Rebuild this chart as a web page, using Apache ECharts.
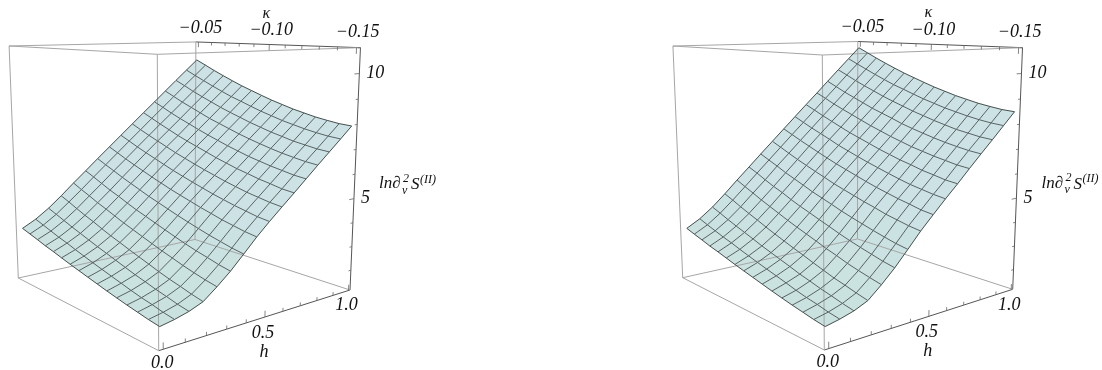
<!DOCTYPE html>
<html>
<head>
<meta charset="utf-8">
<title>surface</title>
<style>
  html, body { margin: 0; padding: 0; background: #fff; }
  #main { width: 1102px; height: 370px; }
</style>
<script src="https://cdn.jsdelivr.net/npm/echarts@6/dist/echarts.min.js"></script>
</head>
<body>
<div id="main"></div>
<script>
// mesh nodes
var hGrid = [0, 0.0667, 0.1333, 0.2, 0.2667, 0.3333, 0.4, 0.4667, 0.5333, 0.6, 0.6667, 0.7333, 0.8, 0.8667, 0.9333, 1];
var kappaGrid = [-0.15, -0.1433, -0.1367, -0.13, -0.1233, -0.1167, -0.11, -0.1033, -0.0967, -0.09, -0.0833, -0.0767, -0.07, -0.0633, -0.0567, -0.05];

// one row per kappaGrid value, one column per hGrid value
var zLeft = [
  [1.90, 2.00, 2.14, 2.35, 2.76, 3.21, 3.73, 4.26, 4.74, 5.20, 5.65, 6.11, 6.57, 7.02, 7.47, 7.93],
  [1.96, 2.07, 2.22, 2.45, 2.85, 3.30, 3.81, 4.33, 4.80, 5.26, 5.70, 6.16, 6.62, 7.06, 7.51, 7.96],
  [2.04, 2.17, 2.33, 2.57, 2.96, 3.42, 3.92, 4.43, 4.90, 5.35, 5.80, 6.25, 6.70, 7.14, 7.58, 8.03],
  [2.12, 2.25, 2.43, 2.68, 3.08, 3.53, 4.03, 4.53, 5.00, 5.44, 5.89, 6.34, 6.79, 7.22, 7.67, 8.11],
  [2.21, 2.35, 2.55, 2.81, 3.22, 3.66, 4.16, 4.66, 5.12, 5.56, 6.01, 6.45, 6.90, 7.34, 7.78, 8.22],
  [2.30, 2.46, 2.66, 2.95, 3.35, 3.80, 4.29, 4.78, 5.24, 5.68, 6.12, 6.56, 7.02, 7.45, 7.89, 8.33],
  [2.40, 2.57, 2.79, 3.09, 3.50, 3.95, 4.43, 4.92, 5.38, 5.82, 6.26, 6.70, 7.15, 7.59, 8.03, 8.47],
  [2.50, 2.68, 2.92, 3.23, 3.65, 4.10, 4.58, 5.06, 5.52, 5.96, 6.40, 6.84, 7.29, 7.73, 8.17, 8.61],
  [2.60, 2.79, 3.05, 3.38, 3.80, 4.25, 4.73, 5.20, 5.67, 6.11, 6.56, 7.00, 7.45, 7.89, 8.33, 8.77],
  [2.70, 2.91, 3.18, 3.52, 3.95, 4.40, 4.88, 5.36, 5.82, 6.27, 6.72, 7.16, 7.61, 8.05, 8.50, 8.94],
  [2.81, 3.03, 3.32, 3.68, 4.12, 4.57, 5.05, 5.52, 5.99, 6.43, 6.88, 7.33, 7.77, 8.22, 8.66, 9.11],
  [2.92, 3.16, 3.46, 3.85, 4.29, 4.75, 5.22, 5.69, 6.16, 6.61, 7.05, 7.51, 7.96, 8.41, 8.85, 9.30],
  [3.02, 3.27, 3.60, 4.00, 4.45, 4.91, 5.39, 5.86, 6.33, 6.79, 7.24, 7.69, 8.15, 8.60, 9.05, 9.50],
  [3.14, 3.40, 3.75, 4.17, 4.64, 5.10, 5.58, 6.04, 6.51, 6.97, 7.43, 7.88, 8.34, 8.80, 9.26, 9.71],
  [3.25, 3.53, 3.90, 4.35, 4.81, 5.29, 5.76, 6.23, 6.70, 7.16, 7.63, 8.09, 8.55, 9.02, 9.47, 9.93],
  [3.36, 3.66, 4.05, 4.51, 5.00, 5.47, 5.95, 6.42, 6.89, 7.36, 7.83, 8.29, 8.76, 9.23, 9.69, 10.15]
];
var zRight = [
  [1.88, 1.99, 2.14, 2.37, 2.82, 3.32, 3.89, 4.47, 4.99, 5.50, 5.99, 6.50, 7.00, 7.49, 7.99, 8.49],
  [1.94, 2.06, 2.23, 2.48, 2.92, 3.41, 3.97, 4.54, 5.05, 5.56, 6.04, 6.55, 7.05, 7.53, 8.03, 8.52],
  [2.02, 2.16, 2.34, 2.60, 3.03, 3.53, 4.08, 4.64, 5.16, 5.65, 6.14, 6.64, 7.13, 7.61, 8.10, 8.59],
  [2.10, 2.24, 2.44, 2.71, 3.15, 3.65, 4.20, 4.74, 5.26, 5.74, 6.23, 6.73, 7.22, 7.69, 8.19, 8.67],
  [2.19, 2.34, 2.56, 2.85, 3.30, 3.78, 4.33, 4.88, 5.38, 5.86, 6.36, 6.84, 7.33, 7.81, 8.30, 8.78],
  [2.28, 2.46, 2.67, 2.99, 3.43, 3.92, 4.46, 5.00, 5.50, 5.99, 6.47, 6.95, 7.45, 7.93, 8.41, 8.89],
  [2.38, 2.57, 2.81, 3.14, 3.59, 4.08, 4.60, 5.14, 5.64, 6.13, 6.61, 7.09, 7.58, 8.07, 8.55, 9.03],
  [2.48, 2.68, 2.94, 3.28, 3.74, 4.23, 4.76, 5.28, 5.79, 6.27, 6.75, 7.23, 7.72, 8.21, 8.69, 9.17],
  [2.58, 2.79, 3.07, 3.43, 3.89, 4.39, 4.91, 5.42, 5.94, 6.42, 6.91, 7.39, 7.89, 8.37, 8.85, 9.33],
  [2.68, 2.91, 3.20, 3.58, 4.05, 4.54, 5.06, 5.59, 6.09, 6.58, 7.07, 7.55, 8.05, 8.53, 9.02, 9.50],
  [2.79, 3.03, 3.35, 3.74, 4.22, 4.71, 5.24, 5.75, 6.26, 6.74, 7.23, 7.73, 8.21, 8.70, 9.18, 9.67],
  [2.90, 3.16, 3.49, 3.91, 4.39, 4.90, 5.41, 5.92, 6.43, 6.93, 7.41, 7.91, 8.40, 8.89, 9.37, 9.86],
  [3.00, 3.27, 3.63, 4.07, 4.56, 5.06, 5.58, 6.09, 6.61, 7.11, 7.60, 8.09, 8.59, 9.08, 9.57, 10.06],
  [3.12, 3.40, 3.78, 4.24, 4.75, 5.25, 5.78, 6.28, 6.79, 7.29, 7.79, 8.28, 8.78, 9.28, 9.78, 10.27],
  [3.23, 3.53, 3.94, 4.42, 4.93, 5.45, 5.96, 6.47, 6.98, 7.48, 7.99, 8.49, 8.99, 9.50, 9.99, 10.49],
  [3.35, 3.67, 4.09, 4.59, 5.12, 5.63, 6.15, 6.66, 7.17, 7.68, 8.19, 8.69, 9.20, 9.71, 10.21, 10.71]
];

// axis ticks
var hTicks = [0, 0.5, 1];
var hTickLabels = ['0.0', '0.5', '1.0'];
var hMinorTicks = [0.1, 0.2, 0.3, 0.4, 0.6, 0.7, 0.8, 0.9];
var kappaTicks = [-0.05, -0.1, -0.15];
var kappaTickLabels = ['\u22120.05', '\u22120.10', '\u22120.15'];
var kappaMinorTicks = [-0.06, -0.07, -0.08, -0.09, -0.11, -0.12, -0.13, -0.14];
var zTicks = [5, 10];
var zTickLabels = ['5', '10'];
var zMinorTicks = [2, 3, 4, 6, 7, 8, 9, 11];

// box extent, a little wider than the surface
var hRange = [-0.02, 1.01];
var kappaRange = [-0.152, -0.048];
var zRange = [1.15, 11];

// projection of the box: front bottom corner, the ends of the three edges from it,
// and their perspective weights
var panels = [{
  z: zLeft,
  origin: [158.7, 350.7], hEnd: [350, 290], kEnd: [18.3, 278], zEnd: [157.3, 54.3],
  wh: 1.225, wk: 1.28, wz: 0.93
}, {
  z: zRight,
  origin: [824.3, 350], hEnd: [1012.7, 289.3], kEnd: [682.7, 277.7], zEnd: [822.3, 55],
  wh: 1.223, wk: 1.276, wz: 0.93
}];

var FONT = '"Liberation Serif"';
var hLabelOffset = [[-1, 14], [-2, 16], [-2, 15]];
var kLabelOffset = [[2, -14], [2, -14], [1, -15]];

function cube(h, k, z) {
  return [
    (h - hRange[0]) / (hRange[1] - hRange[0]),
    (k - kappaRange[0]) / (kappaRange[1] - kappaRange[0]),
    (z - zRange[0]) / (zRange[1] - zRange[0])
  ];
}

function project(p, c) {
  var w = 1 + (p.wh - 1) * c[0] + (p.wk - 1) * c[1] + (p.wz - 1) * c[2];
  var r = [];
  for (var a = 0; a < 2; a++) {
    r[a] = (p.origin[a]
      + c[0] * (p.wh * p.hEnd[a] - p.origin[a])
      + c[1] * (p.wk * p.kEnd[a] - p.origin[a])
      + c[2] * (p.wz * p.zEnd[a] - p.origin[a])) / w;
  }
  return r;
}

function at(p, h, k, z) {
  return project(p, cube(h, k, z));
}

function indexList(n) {
  var d = [];
  for (var i = 0; i < n; i++) d.push(i);
  return d;
}

function customSeries(order, count, render) {
  return {
    type: 'custom',
    coordinateSystem: 'cartesian2d',
    silent: true,
    animation: false,
    z: order,
    data: indexList(count),
    renderItem: render
  };
}

function polyline(api, pts, stroke, width) {
  return {
    type: 'polyline',
    shape: { points: pts.map(function (q) { return api.coord(q); }) },
    style: { stroke: stroke, lineWidth: width, fill: null }
  };
}

function surfaceSeries(p) {
  var cells = [];
  for (var j = 0; j < kappaGrid.length - 1; j++) {
    for (var i = 0; i < hGrid.length - 1; i++) cells.push([i, j]);
  }
  return customSeries(2, cells.length, function (params, api) {
    var i = cells[params.dataIndex][0], j = cells[params.dataIndex][1];
    var pts = [[i, j], [i + 1, j], [i + 1, j + 1], [i, j + 1]].map(function (n) {
      return api.coord(at(p, hGrid[n[0]], kappaGrid[n[1]], p.z[n[1]][n[0]]));
    });
    // greener towards the bottom of the surface
    var f = Math.min(1, (p.z[j][i] - 2) / 3);
    var col = 'rgb(' + Math.round(202 + 2 * f) + ',' + Math.round(226) + ',' + Math.round(223 + 6 * f) + ')';
    return {
      type: 'polygon',
      shape: { points: pts },
      style: { fill: col, stroke: col, lineWidth: 0.6 }
    };
  });
}

function meshSeries(p) {
  var lines = [];
  var nh = hGrid.length, nk = kappaGrid.length;
  for (var j = 0; j < nk; j++) {
    var row = [];
    for (var i = 0; i < nh; i++) row.push(at(p, hGrid[i], kappaGrid[j], p.z[j][i]));
    lines.push({ pts: row, edge: j === 0 || j === nk - 1 });
  }
  for (var m = 0; m < nh; m++) {
    var col = [];
    for (var n = 0; n < nk; n++) col.push(at(p, hGrid[m], kappaGrid[n], p.z[n][m]));
    lines.push({ pts: col, edge: m === 0 || m === nh - 1 });
  }
  return customSeries(4, lines.length, function (params, api) {
    var l = lines[params.dataIndex];
    return polyline(api, l.pts, l.edge ? '#48504f' : '#586263', 1);
  });
}

function boxSeries(p) {
  var h0 = hRange[0], h1 = hRange[1], k0 = kappaRange[0], k1 = kappaRange[1], z0 = zRange[0], z1 = zRange[1];
  var edges = [
    [[h0, k0, z0], [h1, k0, z0], true],
    [[h1, k1, z1], [h1, k0, z1], true],
    [[h1, k0, z0], [h1, k0, z1], true],
    [[h0, k0, z0], [h0, k1, z0]],
    [[h0, k1, z0], [h1, k1, z0]],
    [[h1, k1, z0], [h1, k0, z0]],
    [[h0, k0, z1], [h1, k0, z1]],
    [[h0, k0, z1], [h0, k1, z1]],
    [[h0, k1, z1], [h1, k1, z1]],
    [[h0, k0, z0], [h0, k0, z1]],
    [[h0, k1, z0], [h0, k1, z1]],
    [[h1, k1, z0], [h1, k1, z1]]
  ];
  return customSeries(3, edges.length, function (params, api) {
    var e = edges[params.dataIndex];
    return polyline(api, [at(p, e[0][0], e[0][1], e[0][2]), at(p, e[1][0], e[1][1], e[1][2])],
      e[2] ? '#555' : '#a6a6a6', 1);
  });
}

function tickSeries(p) {
  var segs = [];
  var zSpan = zRange[1] - zRange[0], hSpan = hRange[1] - hRange[0];
  function hTick(v, len) {
    segs.push([at(p, v, kappaRange[0], zRange[0]), at(p, v, kappaRange[0], zRange[0] + len * zSpan)]);
  }
  function kTick(v, len) {
    segs.push([at(p, hRange[1], v, zRange[1]), at(p, hRange[1], v, zRange[1] - len * zSpan)]);
  }
  function zTick(v, len) {
    segs.push([at(p, hRange[1], kappaRange[0], v), at(p, hRange[1] - len * hSpan, kappaRange[0], v)]);
  }
  hTicks.forEach(function (v) { hTick(v, 0.025); });
  hMinorTicks.forEach(function (v) { hTick(v, 0.014); });
  kappaTicks.forEach(function (v) { kTick(v, 0.025); });
  kappaMinorTicks.forEach(function (v) { kTick(v, 0.014); });
  zTicks.forEach(function (v) { zTick(v, 0.03); });
  zMinorTicks.forEach(function (v) { zTick(v, 0.015); });
  return customSeries(5, segs.length, function (params, api) {
    return polyline(api, segs[params.dataIndex], '#666', 0.8);
  });
}

function textSeries(p) {
  var items = [];
  function add(text, xy, size, dx, dy, align) {
    items.push({ text: text, xy: xy, size: size, dx: dx, dy: dy, align: align || 'center' });
  }
  hTicks.forEach(function (v, i) {
    add(hTickLabels[i], at(p, v, kappaRange[0], zRange[0]), 18, hLabelOffset[i][0], hLabelOffset[i][1]);
  });
  kappaTicks.forEach(function (v, i) {
    add(kappaTickLabels[i], at(p, hRange[1], v, zRange[1]), 18, kLabelOffset[i][0], kLabelOffset[i][1]);
  });
  zTicks.forEach(function (v, i) {
    add(zTickLabels[i], at(p, hRange[1], kappaRange[0], v), 18, 7, 0, 'left');
  });
  // axis titles
  add('h', at(p, 0.5, kappaRange[0], zRange[0]), 18, -1, 35);
  add('\u03ba', at(p, hRange[1], -0.1, zRange[1]), 16, -3, -31);
  var t = at(p, hRange[1], kappaRange[0], 5);
  add('ln\u2202', t, 17, 25, -15, 'left');
  add('2', t, 12, 49, -20, 'left');
  add('\u03bd', t, 12, 48, -8, 'left');
  add('S', t, 17, 57, -14, 'left');
  add('(II)', t, 12, 66, -19, 'left');
  return customSeries(6, items.length, function (params, api) {
    var it = items[params.dataIndex];
    var c = api.coord(it.xy);
    return {
      type: 'text',
      style: {
        text: it.text,
        x: c[0] + it.dx,
        y: c[1] + it.dy,
        fill: '#111',
        fontStyle: 'italic',
        fontSize: it.size,
        fontFamily: FONT,
        align: it.align,
        verticalAlign: 'middle'
      }
    };
  });
}

var series = [];
panels.forEach(function (p) {
  series.push(surfaceSeries(p), boxSeries(p), meshSeries(p), tickSeries(p), textSeries(p));
});

var chart = echarts.init(document.getElementById('main'), null, { renderer: 'canvas' });
chart.setOption({
  animation: false,
  backgroundColor: '#fff',
  grid: { left: 0, right: 0, top: 0, bottom: 0 },
  xAxis: { type: 'value', min: 0, max: 1102, show: false },
  yAxis: { type: 'value', min: 0, max: 370, inverse: true, show: false },
  series: series
});
</script>
</body>
</html>
